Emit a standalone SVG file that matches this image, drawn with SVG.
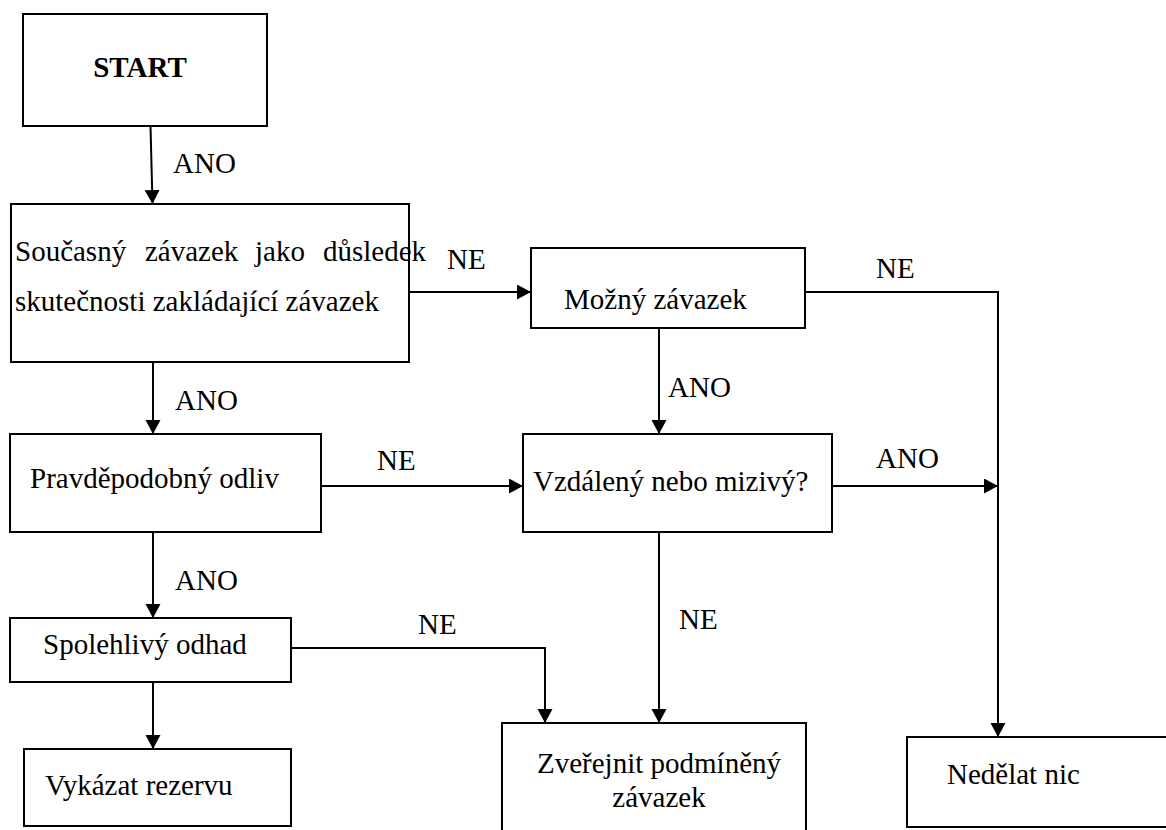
<svg xmlns="http://www.w3.org/2000/svg" width="1166" height="830" viewBox="0 0 1166 830">
<style>
  .box { fill: #ffffff; stroke: #000000; stroke-width: 2; }
  .t { font-family: "Liberation Serif", "Times New Roman", serif; font-size: 29px; fill: #000000; }
  .b { font-weight: bold; }
  .c { fill: none; stroke: #000000; stroke-width: 2; }
</style>
<defs>
  <marker id="arr" markerUnits="userSpaceOnUse" markerWidth="15" markerHeight="16" refX="14" refY="7.5" orient="auto">
    <path d="M0,0 L14,7.5 L0,15 z" fill="#000000"/>
  </marker>
</defs>
<rect width="1166" height="830" fill="#ffffff"/>

<g id="connectors">
  <line class="c" x1="150.5" y1="126" x2="152.5" y2="204" marker-end="url(#arr)"/>
  <line class="c" x1="409" y1="292" x2="531" y2="292" marker-end="url(#arr)"/>
  <polyline class="c" points="805,292 998,292 998,737" marker-end="url(#arr)"/>
  <line class="c" x1="659" y1="328" x2="659" y2="434" marker-end="url(#arr)"/>
  <line class="c" x1="153" y1="362" x2="153" y2="434" marker-end="url(#arr)"/>
  <line class="c" x1="321" y1="486" x2="523" y2="486" marker-end="url(#arr)"/>
  <line class="c" x1="832" y1="486" x2="998" y2="486" marker-end="url(#arr)"/>
  <line class="c" x1="153" y1="532" x2="153" y2="618" marker-end="url(#arr)"/>
  <line class="c" x1="659" y1="532" x2="659" y2="723" marker-end="url(#arr)"/>
  <polyline class="c" points="291,648 545,648 545,723" marker-end="url(#arr)"/>
  <line class="c" x1="153" y1="682" x2="153" y2="749" marker-end="url(#arr)"/>
  <text class="t" x="173" y="173">ANO</text>
  <text class="t" x="447" y="269">NE</text>
  <text class="t" x="876" y="278">NE</text>
  <text class="t" x="668" y="397">ANO</text>
  <text class="t" x="175" y="410">ANO</text>
  <text class="t" x="377" y="470">NE</text>
  <text class="t" x="876" y="468">ANO</text>
  <text class="t" x="175" y="590">ANO</text>
  <text class="t" x="679" y="629">NE</text>
  <text class="t" x="418" y="634">NE</text>
</g>

<g id="start">
  <rect class="box" x="23" y="14" width="244" height="112"/>
  <text class="t b" x="140" y="77" text-anchor="middle">START</text>
</g>

<g id="soucasny">
  <rect class="box" x="11" y="204" width="398" height="158"/>
  <text class="t" y="261"><tspan x="15">Současný</tspan><tspan x="145">závazek</tspan><tspan x="255">jako</tspan><tspan x="323">důsledek</tspan></text>
  <text class="t" x="15" y="311">skutečnosti zakládající závazek</text>
</g>

<g id="mozny">
  <rect class="box" x="531" y="248" width="274" height="80"/>
  <text class="t" x="564" y="309">Možný závazek</text>
</g>

<g id="pravdepodobny">
  <rect class="box" x="10" y="434" width="311" height="98"/>
  <text class="t" x="30" y="488">Pravděpodobný odliv</text>
</g>

<g id="vzdaleny">
  <rect class="box" x="523" y="434" width="309" height="98"/>
  <text class="t" x="533" y="491">Vzdálený nebo mizivý?</text>
</g>

<g id="spolehlivy">
  <rect class="box" x="10" y="618" width="281" height="64"/>
  <text class="t" x="43" y="654">Spolehlivý odhad</text>
</g>

<g id="vykazat">
  <rect class="box" x="24" y="749" width="267" height="77"/>
  <text class="t" x="45" y="795">Vykázat rezervu</text>
</g>

<g id="zverejnit">
  <rect class="box" x="502" y="723" width="304" height="130"/>
  <text class="t" x="659" y="773" text-anchor="middle">Zveřejnit podmíněný</text>
  <text class="t" x="659" y="807" text-anchor="middle">závazek</text>
</g>

<g id="nedelat">
  <rect class="box" x="907" y="737" width="270" height="90"/>
  <text class="t" x="947" y="784">Nedělat nic</text>
</g>
</svg>
